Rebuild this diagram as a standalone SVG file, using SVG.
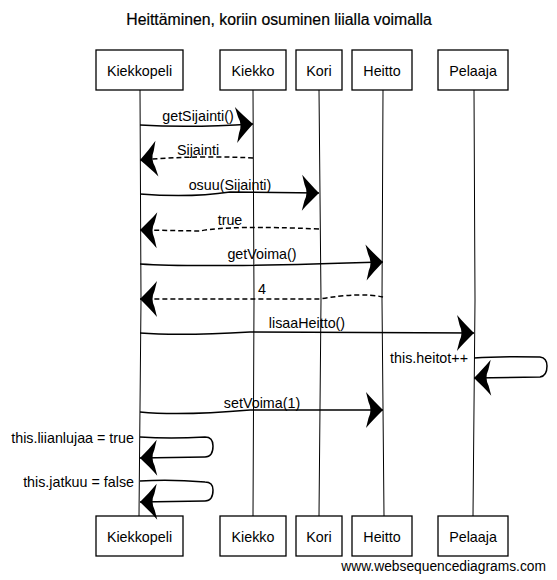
<svg xmlns="http://www.w3.org/2000/svg" width="557" height="580" viewBox="0 0 557 580">
<defs>
<marker id="ah" markerUnits="userSpaceOnUse" markerWidth="22" markerHeight="40" viewBox="0 0 22 40" refX="19" refY="20" orient="auto">
<path d="M19,20 C13,14 7,8 2,2 L4.5,12 Q6.5,16 6.5,20 Q6.5,24 4.5,28 L2,38 C7,32 13,26 19,20 Z" fill="#000"/>
</marker>
</defs>
<style>
text{font-family:"Liberation Sans",Arial,sans-serif;font-size:14.3px;fill:#000}
.box rect{fill:#fff;stroke:#000;stroke-width:1.3}
.box text{text-anchor:middle}
.life{stroke:#000;stroke-width:1;fill:none}
.msg{stroke:#000;stroke-width:1.5;fill:none;marker-end:url(#ah)}
.ret{stroke-dasharray:5,3}
.lbl{text-anchor:middle}
.rl{text-anchor:end}
</style>
<rect width="557" height="580" fill="#fff"/>
<text x="279" y="25" text-anchor="middle" style="font-size:15.8px;stroke:#000;stroke-width:0.2">Heittäminen, koriin osuminen liialla voimalla</text>
<g id="lifelines">
<path class="life" d="M140,90 L141,300 L139,516"/>
<path class="life" d="M253,90 L254,300 L253,516"/>
<path class="life" d="M319,90 L321,300 L319,516"/>
<path class="life" d="M383,90 L382,300 L384,516"/>
<path class="life" d="M474,90 L475,300 L473,516"/>
</g>
<g id="Kiekkopeli" class="box"><rect x="96" y="50" width="87" height="40"/><text x="139.5" y="76">Kiekkopeli</text></g>
<g id="Kiekko" class="box"><rect x="220" y="50" width="66" height="40"/><text x="253" y="76">Kiekko</text></g>
<g id="Kori" class="box"><rect x="296" y="50" width="46" height="40"/><text x="319" y="76">Kori</text></g>
<g id="Heitto" class="box"><rect x="352" y="50" width="60" height="40"/><text x="382" y="76">Heitto</text></g>
<g id="Pelaaja" class="box"><rect x="438" y="50" width="70" height="40"/><text x="473" y="76">Pelaaja</text></g>
<g id="Kiekkopeli-bottom" class="box"><rect x="96" y="516" width="87" height="40"/><text x="139.5" y="542">Kiekkopeli</text></g>
<g id="Kiekko-bottom" class="box"><rect x="220" y="516" width="66" height="40"/><text x="253" y="542">Kiekko</text></g>
<g id="Kori-bottom" class="box"><rect x="296" y="516" width="46" height="40"/><text x="319" y="542">Kori</text></g>
<g id="Heitto-bottom" class="box"><rect x="352" y="516" width="60" height="40"/><text x="382" y="542">Heitto</text></g>
<g id="Pelaaja-bottom" class="box"><rect x="438" y="516" width="70" height="40"/><text x="473" y="542">Pelaaja</text></g>
<g id="connectors">
<path class="msg" d="M140,125 Q190,128 253,124"/>
<text class="lbl" x="198" y="121">getSijainti()</text>
<path class="msg ret" d="M253,158 Q200,155 140,160"/>
<text class="lbl" x="198" y="155">Sijainti</text>
<path class="msg" d="M140,194 Q190,198 230,192 L319,193"/>
<text class="lbl" x="230" y="190">osuu(Sijainti)</text>
<path class="msg ret" d="M319,229 Q230,225 200,231 L140,230"/>
<text class="lbl" x="230" y="225">true</text>
<path class="msg" d="M140,264 Q200,268 383,262"/>
<text class="lbl" x="262" y="259">getVoima()</text>
<path class="msg ret" d="M383,297 Q360,292 320,299 L140,299"/>
<text x="258" y="294">4</text>
<path class="msg" d="M140,333 Q180,336 250,332 L474,333"/>
<text class="lbl" x="307" y="328">lisaaHeitto()</text>
<path class="msg" d="M474,358 Q500,356 540,357 Q547,358 547,366 Q547,376 540,377 L474,378"/>
<text class="rl" x="468" y="363">this.heitot++</text>
<path class="msg" d="M140,412 Q180,416 250,410 L383,410"/>
<text class="lbl" x="262" y="408">setVoima(1)</text>
<path class="msg" d="M140,437 Q170,439 205,437 Q213,437 213,446 Q213,457 205,457 L140,458"/>
<text class="rl" x="134" y="443">this.liianlujaa = true</text>
<path class="msg" d="M140,481 Q170,479 205,482 Q213,482 213,490 Q213,501 205,501 L140,502"/>
<text class="rl" x="134" y="487">this.jatkuu = false</text>
</g>
<text x="546" y="571" text-anchor="end" style="font-size:13.8px">www.websequencediagrams.com</text>
</svg>
